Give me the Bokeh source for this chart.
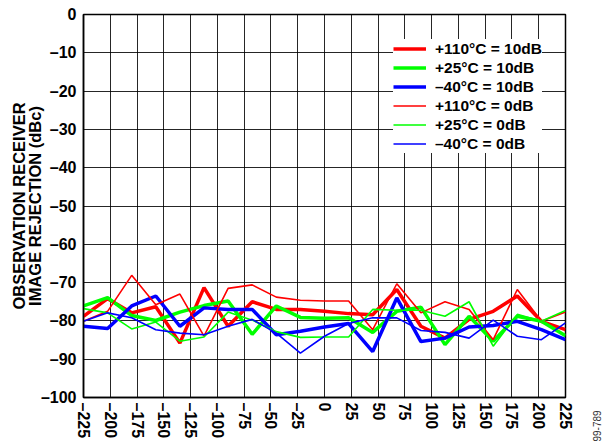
import math
from bokeh.plotting import figure
from bokeh.models import Range1d, Legend, LegendItem, FixedTicker, Label
from bokeh.embed import file_html
from bokeh.resources import INLINE

# ---- data ----
offsets = [-225, -202.5, -180, -157.5, -135, -112.5, -90, -67.5, -45, -22.5, 0,
           22.5, 45, 67.5, 90, 112.5, 135, 157.5, 180, 202.5, 225]

r110_10db = [-78.8, -74.2, -77.9, -76.3, -85.8, -71.3, -81.4, -75.0, -77.0, -77.0, -77.5,
             -78.1, -78.4, -71.8, -81.4, -84.5, -79.6, -77.5, -73.5, -80.1, -82.3]
g25_10db = [-76.1, -73.9, -78.6, -79.9, -77.7, -76.0, -74.8, -83.5, -76.1, -79.1, -79.3,
            -79.2, -83.0, -77.5, -76.4, -86.2, -78.8, -85.3, -78.8, -80.1, -83.9]
b40_10db = [-81.4, -82.0, -76.1, -73.5, -81.4, -76.6, -77.0, -77.0, -83.6, -82.7, -81.6,
            -80.7, -88.0, -74.0, -85.4, -84.5, -81.6, -81.2, -80.1, -82.3, -84.9]
r110_0db = [-80.1, -77.5, -68.1, -75.8, -73.0, -84.0, -71.5, -70.6, -73.8, -74.6, -74.8,
            -74.8, -82.3, -70.3, -77.9, -75.0, -77.0, -84.9, -71.8, -80.1, -77.7]
g25_0db = [-76.8, -77.9, -82.1, -80.3, -85.3, -84.2, -77.7, -79.8, -82.8, -84.3, -84.2,
           -84.2, -77.0, -77.2, -77.2, -78.8, -75.0, -86.6, -78.3, -80.1, -77.3]
b40_0db = [-80.1, -77.9, -79.2, -82.3, -83.2, -83.6, -81.4, -79.6, -83.2, -88.4, -84.0,
           -80.7, -79.2, -79.2, -82.5, -83.0, -84.5, -79.8, -84.0, -84.9, -80.5]

x_ticks = [-225, -200, -175, -150, -125, -100, -75, -50, -25, 0, 25, 50, 75, 100,
           125, 150, 175, 200, 225]
x_tick_labels = ["–225", "–200", "–175", "–150", "–125", "–100", "–75", "–50", "–25",
                 "0", "25", "50", "75", "100", "125", "150", "175", "200", "225"]
y_ticks = [0, -10, -20, -30, -40, -50, -60, -70, -80, -90, -100]
y_tick_labels = ["0", "–10", "–20", "–30", "–40", "–50", "–60", "–70", "–80", "–90", "–100"]

series_names = ["+110°C = 10dB", "+25°C = 10dB", "–40°C = 10dB",
                "+110°C = 0dB", "+25°C = 0dB", "–40°C = 0dB"]

FONT = "Liberation Sans"

p = figure(width=605, height=447, output_backend="svg", toolbar_location=None,
           x_range=Range1d(-225, 225), y_range=Range1d(-100, 0),
           min_border_left=83, min_border_right=40, min_border_top=14,
           min_border_bottom=50)

p.outline_line_color = "black"
p.outline_line_width = 1.5
p.background_fill_color = "white"

for g in (p.xgrid, p.ygrid):
    g.grid_line_color = "black"
    g.grid_line_width = 1
    g.grid_line_alpha = 0.85

p.xaxis.ticker = FixedTicker(ticks=x_ticks)
p.yaxis.ticker = FixedTicker(ticks=y_ticks)
p.xaxis.major_label_overrides = {t: l for t, l in zip(x_ticks, x_tick_labels)}
p.yaxis.major_label_overrides = {t: l for t, l in zip(y_ticks, y_tick_labels)}
p.xaxis.major_label_orientation = "vertical"

for ax in (p.xaxis, p.yaxis):
    ax.major_tick_in = 0
    ax.major_tick_out = 0
    ax.minor_tick_line_color = None
    ax.axis_line_color = "black"
    ax.axis_line_width = 1.5
    ax.major_label_text_font = FONT
    ax.major_label_text_font_style = "bold"
    ax.major_label_text_font_size = "16px"
    ax.major_label_text_color = "black"

p.xaxis.major_label_standoff = 5
p.yaxis.major_label_standoff = 7

p.yaxis.axis_label = "OBSERVATION RECEIVER\nIMAGE REJECTION (dBc)"
p.yaxis.axis_label_text_font = FONT
p.yaxis.axis_label_text_font_style = "bold"
p.yaxis.axis_label_text_font_size = "16.5px"
p.yaxis.axis_label_text_line_height = 0.9
p.yaxis.axis_label_text_color = "black"
p.yaxis.axis_label_standoff = -6

styles = [
    (r110_10db, "#FF0000", 3.5),
    (g25_10db, "#00FF00", 3.5),
    (b40_10db, "#0000FF", 3.5),
    (r110_0db, "#FF0000", 1.6),
    (g25_0db, "#00FF00", 1.6),
    (b40_0db, "#0000FF", 1.6),
]

renderers = []
for ys, col, w in styles:
    renderers.append(p.line(offsets, ys, line_color=col, line_width=w))

items = [LegendItem(label=n, renderers=[r]) for n, r in zip(series_names, renderers)]
legend = Legend(items=items, location=(310, 244))
legend.background_fill_color = "white"
legend.background_fill_alpha = 1.0
legend.border_line_color = None
legend.label_text_font = FONT
legend.label_text_font_style = "bold"
legend.label_text_font_size = "15.5px"
legend.label_text_color = "black"
legend.glyph_width = 33
legend.glyph_height = 19
legend.label_height = 19
legend.label_standoff = 9
legend.spacing = 0
legend.padding = 8
legend.margin = 0
p.add_layout(legend, "center")

p.add_layout(Label(x=31, y=-44, x_units="screen", y_units="screen", text="99-789",
                   angle=math.pi / 2, angle_units="rad", text_font=FONT,
                   text_font_size="10px", text_color="#333333",
                   text_align="left", text_baseline="middle"), "right")

open("out.html", "w").write(file_html(p, INLINE))
